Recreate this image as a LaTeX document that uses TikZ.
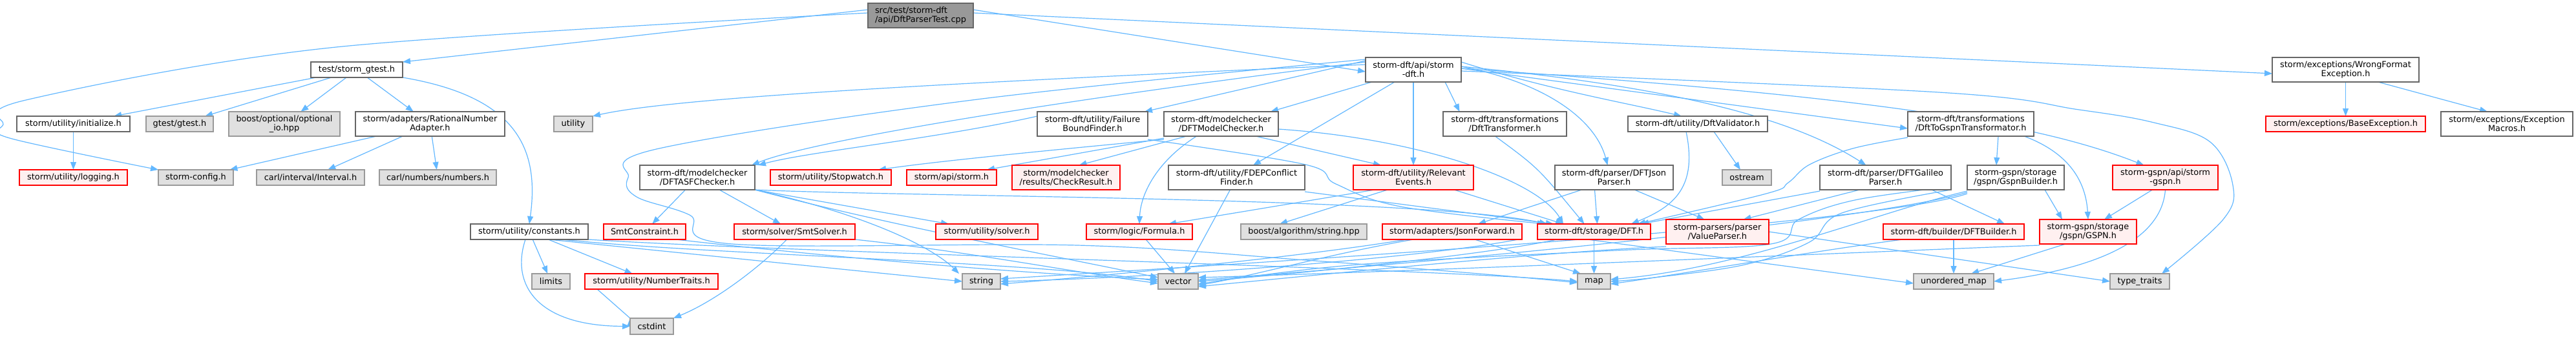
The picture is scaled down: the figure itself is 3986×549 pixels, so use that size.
\documentclass[tikz,border=0pt]{standalone}
\usepackage{fontspec}
\setmainfont{DejaVu Sans}
\usetikzlibrary{arrows.meta,backgrounds}
\definecolor{edgec}{HTML}{63B8FF}
\definecolor{bordc}{HTML}{666666}
\definecolor{grayb}{HTML}{999999}
\definecolor{grayf}{HTML}{E0E0E0}
\definecolor{redb}{HTML}{FF0000}
\definecolor{redf}{HTML}{FFF0F0}
\definecolor{rootf}{HTML}{999999}
\newcommand\nd[7]{%
 \pgfmathsetmacro\ndw{#5-#3}\pgfmathsetmacro\ndh{#6-#4}%
 \pgfmathsetmacro\ndx{(#3+#5)/2}\pgfmathsetmacro\ndy{(#4+#6)/2}%
 \node[#1,minimum width=\ndw pt,minimum height=\ndh pt] (#2) at (\ndx,\ndy) {#7};}
\begin{document}
\begin{tikzpicture}[x=1pt,y=-1pt,
 nbase/.style={draw, line width=1.2pt, inner sep=0pt, outer sep=0pt, align=center, font=\fontsize{12.9}{14}\selectfont, text=black},
 wbox/.style={nbase, draw=bordc, fill=white},
 gbox/.style={nbase, draw=grayb, fill=grayf},
 rbox/.style={nbase, draw=redb, fill=redf},
 rootbox/.style={nbase, draw=bordc, fill=rootf, align=left},
 conn/.style={draw=edgec, line width=1.2pt, -{Triangle[length=12pt,width=9pt]}},
]
\useasboundingbox (0,0) rectangle (3986,549);
\nd{rootbox}{root}{1343}{5}{1506}{43}{src/test/storm-dft\\/api/DftParserTest.cpp}
\nd{wbox}{gtesth}{481}{96}{623}{120}{test/storm\_gtest.h}
\nd{wbox}{init}{26}{180}{201}{204}{storm/utility/initialize.h}
\nd{gbox}{gtest}{226}{180}{330}{204}{gtest/gtest.h}
\nd{gbox}{boostopt}{354}{173}{526}{211}{boost/optional/optional\\\_io.hpp}
\nd{wbox}{ratadapt}{550}{173}{781}{211}{storm/adapters/RationalNumber\\Adapter.h}
\nd{rbox}{logging}{30}{263}{197}{287}{storm/utility/logging.h}
\nd{gbox}{config}{245}{263}{361}{287}{storm-config.h}
\nd{gbox}{interval}{397}{263}{564}{287}{carl/interval/Interval.h}
\nd{gbox}{numbers}{587}{263}{768}{287}{carl/numbers/numbers.h}
\nd{gbox}{utility}{857}{180}{917}{204}{utility}
\nd{wbox}{constants}{728}{347}{910}{371}{storm/utility/constants.h}
\nd{gbox}{limits}{823}{424}{882}{448}{limits}
\nd{rbox}{numtraits}{905}{424}{1111}{448}{storm/utility/NumberTraits.h}
\nd{gbox}{cstdint}{975}{493}{1042}{518}{cstdint}
\nd{rbox}{smtcons}{934}{347}{1061}{371}{SmtConstraint.h}
\nd{wbox}{asf}{990}{256}{1168}{294}{storm-dft/modelchecker\\/DFTASFChecker.h}
\nd{rbox}{stopwatch}{1192}{263}{1379}{287}{storm/utility/Stopwatch.h}
\nd{rbox}{stormapi}{1403}{263}{1542}{287}{storm/api/storm.h}
\nd{rbox}{smtsolver}{1136}{347}{1323}{371}{storm/solver/SmtSolver.h}
\nd{rbox}{solver}{1448}{347}{1606}{371}{storm/utility/solver.h}
\nd{gbox}{string}{1489}{424}{1548}{448}{string}
\nd{wbox}{fbf}{1605}{173}{1776}{211}{storm-dft/utility/Failure\\BoundFinder.h}
\nd{wbox}{dftmc}{1801}{173}{1978}{211}{storm-dft/modelchecker\\/DFTModelChecker.h}
\nd{rbox}{checkres}{1566}{256}{1733}{294}{storm/modelchecker\\/results/CheckResult.h}
\nd{wbox}{fdep}{1808}{256}{2019}{294}{storm-dft/utility/FDEPConflict\\Finder.h}
\nd{rbox}{formula}{1681}{347}{1845}{371}{storm/logic/Formula.h}
\nd{gbox}{boostalg}{1920}{347}{2115}{371}{boost/algorithm/string.hpp}
\nd{gbox}{vector}{1792}{424}{1854}{448}{vector}
\nd{wbox}{stormdft}{2113}{89}{2261}{127}{storm-dft/api/storm\\-dft.h}
\nd{wbox}{dfttrans}{2233}{173}{2424}{211}{storm-dft/transformations\\/DftTransformer.h}
\nd{rbox}{relev}{2094}{256}{2280}{294}{storm-dft/utility/Relevant\\Events.h}
\nd{wbox}{json}{2406}{256}{2589}{294}{storm-dft/parser/DFTJson\\Parser.h}
\nd{rbox}{jsonfwd}{2139}{347}{2355}{371}{storm/adapters/JsonForward.h}
\nd{rbox}{dft}{2379}{347}{2554}{371}{storm-dft/storage/DFT.h}
\nd{gbox}{map}{2441}{424}{2492}{448}{map}
\nd{wbox}{validator}{2519}{180}{2735}{204}{storm-dft/utility/DftValidator.h}
\nd{gbox}{ostream}{2665}{263}{2741}{287}{ostream}
\nd{wbox}{dfttogspn}{2952}{173}{3147}{211}{storm-dft/transformations\\/DftToGspnTransformator.h}
\nd{wbox}{galileo}{2816}{256}{3019}{294}{storm-dft/parser/DFTGalileo\\Parser.h}
\nd{rbox}{valparser}{2578}{340}{2737}{378}{storm-parsers/parser\\/ValueParser.h}
\nd{rbox}{dftbuilder}{2914}{347}{3132}{371}{storm-dft/builder/DFTBuilder.h}
\nd{gbox}{umap}{2961}{424}{3085}{448}{unordered\_map}
\nd{wbox}{gspnbuilder}{3044}{256}{3194}{294}{storm-gspn/storage\\/gspn/GspnBuilder.h}
\nd{rbox}{stormgspn}{3269}{256}{3432}{294}{storm-gspn/api/storm\\-gspn.h}
\nd{rbox}{gspn}{3156}{340}{3306}{378}{storm-gspn/storage\\/gspn/GSPN.h}
\nd{gbox}{typetraits}{3265}{424}{3357}{448}{type\_traits}
\nd{wbox}{wrongfmt}{3516}{89}{3743}{127}{storm/exceptions/WrongFormat\\Exception.h}
\nd{rbox}{baseexc}{3506}{180}{3753}{204}{storm/exceptions/BaseException.h}
\nd{wbox}{excmacros}{3777}{173}{3981}{211}{storm/exceptions/Exception\\Macros.h}
\begin{pgfonlayer}{background}
\fill[white] (0,0) rectangle (3986,549);
% root
\draw[conn] ([yshift=9]root.west) -- (gtesth.north east);
\draw[conn] plot[smooth,tension=0.55] coordinates {([yshift=4]root.west) (520,73) (40,155) (5,193) (15,214) (config.north west)};
\draw[conn] ([yshift=9]root.east) -- ([yshift=-3]stormdft.west);
\draw[conn] ([yshift=4]root.east) -- ([yshift=-6]wrongfmt.west);
% gtest
\draw[conn] (gtesth) -- (init);
\draw[conn] (gtesth) -- (gtest);
\draw[conn] (gtesth) -- (boostopt);
\draw[conn] (gtesth) -- (ratadapt);
\draw[conn] (gtesth.south east) .. controls (800,150) and (835,230) .. (constants.north);
\draw[conn] (init) -- (logging);
\draw[conn] (ratadapt) -- (config);
\draw[conn] (ratadapt) -- (interval);
\draw[conn] (ratadapt) -- (numbers);
% constants
\draw[conn] (constants) -- (limits);
\draw[conn] (constants) -- (numtraits);
\draw[conn] ([xshift=-6]constants.south) .. controls (790,440) and (830,505) .. (cstdint.west);
\draw[conn] ([xshift=30]constants.south) -- (string.west);
\draw[conn] ([xshift=50]constants.south) .. controls (1100,395) and (1600,405) .. (vector.west);
\draw[conn] (constants.south east) .. controls (1200,390) and (2200,415) .. (map.west);
\draw[conn] (numtraits.south west) ++(19,0) -- (cstdint.north west) ++(0,0);
\draw[conn] ([xshift=-15]smtcons.south east) .. controls (1300,400) and (1600,425) .. ([yshift=3]vector.west);
\draw[conn] ([xshift=-12]smtsolver.south) .. controls (1180,410) and (1110,465) .. (cstdint.north east);
\draw[conn] (smtsolver.south east) .. controls (1500,390) and (1650,420) .. ([yshift=-3]vector.west);
% asf
\draw[conn] (asf) -- (smtcons);
\draw[conn] (asf) -- (smtsolver);
\draw[conn] (asf.south east) -- ([xshift=20]solver.north west);
\draw[conn] (asf.south east) .. controls (1330,330) and (1440,380) .. ([xshift=-5]string.north west);
\draw[conn] (asf.south east) .. controls (1380,350) and (1650,400) .. ([yshift=6]vector.west);
\draw[conn] (asf.south east) .. controls (1400,305) and (2200,305) .. ([xshift=15]dft.north west);
% storm-dft.h
\draw[conn] ([yshift=8]stormdft.west) .. controls (1500,127) and (1050,150) .. (utility.north east);
\draw[conn] ([yshift=12]stormdft.west) .. controls (1600,160) and (1250,220) .. ([xshift=-5]asf.north east);
\draw[conn] ([yshift=14]stormdft.west) -- ([xshift=-5]fbf.north east);
\draw[conn] ([xshift=10]stormdft.south west) -- ([xshift=-12]dftmc.north east);
\draw[conn] ([xshift=45]stormdft.south west) -- ([xshift=-80]fdep.north east);
\draw[conn] (stormdft.south) -- (relev.north);
\draw[conn] ([xshift=-25]stormdft.south east) -- ([xshift=-70]dfttrans.north);
\draw[conn] ([yshift=12]stormdft.east) .. controls (2400,140) and (2520,160) .. ([xshift=-25]validator.north);
\draw[conn] ([yshift=5]stormdft.east) .. controls (2400,130) and (2470,190) .. ([xshift=-10]json.north);
\draw[conn] ([yshift=5]stormdft.east) .. controls (2650,140) and (2800,200) .. ([xshift=-30]galileo.north);
\draw[conn] ([yshift=2]stormdft.east) -- ([yshift=-7]dfttogspn.west);
\draw[conn] ([yshift=2]stormdft.east) .. controls (2900,150) and (3150,190) .. ([xshift=-33]stormgspn.north);
\draw[conn] plot[smooth,tension=0.6] coordinates {([yshift=-2]stormdft.east) (3000,143) (3217,170) (3333,190) (3420,220) (3455,287) (3440,340) ([xshift=-12]typetraits.north east)};
\draw[conn] plot[smooth,tension=0.6] coordinates {([yshift=16]stormdft.west) (1520,153) (1020,230) (972,275) (985,305) (1067,333) (1133,378) (1667,380) (2020,403) (2300,425) ([yshift=-2]map.west)};
% fbf, dftmc
\draw[conn] ([yshift=12]fbf.west) .. controls (1450,215) and (1250,235) .. ([xshift=5]asf.north east);
\draw[conn] plot[smooth,tension=0.6] coordinates {([yshift=-5]fbf.south east) (2020,255) (2067,285) (2167,320) ([xshift=12]dft.north west)};
\draw[conn] ([yshift=-5]dftmc.south west) .. controls (1600,235) and (1450,250) .. ([xshift=-20]stopwatch.north east);
\draw[conn] ([yshift=-3]dftmc.south west) -- ([xshift=-15]stormapi.north east);
\draw[conn] ([xshift=35]dftmc.south west) -- ([xshift=20]checkres.north);
\draw[conn] ([xshift=-38]dftmc.south) .. controls (1790,250) and (1765,300) .. (formula.north);
\draw[conn] ([xshift=-35]dftmc.south east) -- ([xshift=-50]relev.north);
\draw[conn] ([yshift=-8]dftmc.east) .. controls (2200,215) and (2380,280) .. ([xshift=40]dft.north west);
% fdep, relev, transformer
\draw[conn] ([xshift=-10]fdep.south) -- ([xshift=10]vector.north);
\draw[conn] ([yshift=-3]fdep.south east) -- ([xshift=25]dft.north west);
\draw[conn] ([xshift=-60]relev.south) -- ([xshift=45]formula.north);
\draw[conn] ([xshift=-40]relev.south) -- ([xshift=60]boostalg.north west);
\draw[conn] ([xshift=-30]relev.south east) -- ([xshift=40]dft.north west);
\draw[conn] ([xshift=-15]dfttrans.south) .. controls (2380,260) .. ([xshift=-15]dft.north);
\draw[conn] (formula) -- ([xshift=-5]vector.north);
% validator, parsers
\draw[conn] ([xshift=-18]validator.south) .. controls (2627,290) and (2590,320) .. ([xshift=-30]dft.north east);
\draw[conn] ([xshift=25]validator.south) -- ([xshift=-10]ostream.north);
\draw[conn] ([xshift=-50]json.south) -- ([xshift=40]jsonfwd.north);
\draw[conn] ([xshift=-30]json.south) -- ([xshift=5]dft.north);
\draw[conn] ([xshift=-60]json.south east) -- ([xshift=-20]valparser.north);
\draw[conn] ([yshift=-2]galileo.south west) -- ([xshift=-15]dft.north east);
\draw[conn] ([xshift=-40]galileo.south) -- ([xshift=40]valparser.north);
\draw[conn] ([xshift=-30]galileo.south east) -- ([xshift=-30]dftbuilder.north east);
\draw[conn] plot[smooth,tension=0.6] coordinates {(galileo.south east) (2850,330) (2800,375) (2700,410) (2560,430) (map.east)};
\draw[conn] plot[smooth,tension=0.6] coordinates {([yshift=5]galileo.south east) (2870,310) (2783,340) (2740,378) (2500,388) (2100,410) ([yshift=-4]vector.east)};
% gspn
\draw[conn] ([xshift=-55]dfttogspn.south east) -- ([xshift=-30]gspnbuilder.north);
\draw[conn] ([xshift=-15]dfttogspn.south east) .. controls (3210,240) and (3228,290) .. (gspn.north);
\draw[conn] plot[smooth,tension=0.6] coordinates {([yshift=-2]dfttogspn.south west) (2867,230) (2800,255) (2767,283) (2733,300) ([xshift=-20]dft.north east)};
\draw[conn] ([xshift=-30]gspnbuilder.south east) -- ([xshift=-40]gspn.north);
\draw[conn] ([yshift=-2]gspnbuilder.south west) .. controls (2900,330) and (2700,415) .. ([yshift=3]map.east);
\draw[conn] ([yshift=-4]gspnbuilder.south west) .. controls (2900,340) and (2300,400) .. ([yshift=2]vector.east);
\draw[conn] ([yshift=-6]gspnbuilder.south west) .. controls (2900,350) and (1900,410) .. ([yshift=4]string.east);
\draw[conn] ([xshift=-20]stormgspn.south) -- ([xshift=25]gspn.north);
\draw[conn] (stormgspn.south) .. controls (3345,370) and (3250,415) .. (umap.east);
\draw[conn] ([xshift=-35]gspn.south) -- ([xshift=-35]umap.north east);
\draw[conn] ([yshift=-2]gspn.south west) .. controls (2900,390) and (2200,420) .. ([yshift=6]vector.east);
\draw[conn] (dftbuilder.south) -- (umap.north);
\draw[conn] ([xshift=30]dftbuilder.south west) .. controls (2800,390) and (2600,425) .. ([yshift=-4]map.east);
% bottom bundle
\draw[conn] (dft.south) -- (map.north);
\draw[conn] ([xshift=30]dft.south west) .. controls (2300,395) and (2000,425) .. (vector.east);
\draw[conn] ([xshift=-30]dft.south west) .. controls (2200,400) and (1800,430) .. (string.east);
\draw[conn] ([xshift=-10]dft.south) -- ([yshift=-3]umap.west);
\draw[conn] ([xshift=-60]jsonfwd.south) .. controls (2050,395) and (1950,425) .. ([yshift=-6]vector.east);
\draw[conn] ([xshift=-70]jsonfwd.south) .. controls (2000,400) and (1700,428) .. ([yshift=-4]string.east);
\draw[conn] ([xshift=35]jsonfwd.south) -- ([xshift=5]map.north west);
\draw[conn] (valparser.east) -- (typetraits.west);
\draw[conn] ([yshift=-4]valparser.south west) .. controls (2400,390) and (2100,420) .. ([yshift=-8]vector.east);
% exceptions
\draw[conn] (wrongfmt) -- (baseexc);
\draw[conn] ([xshift=50]wrongfmt.south) -- ([xshift=-30]excmacros.north);
\end{pgfonlayer}
\end{tikzpicture}
\end{document}
